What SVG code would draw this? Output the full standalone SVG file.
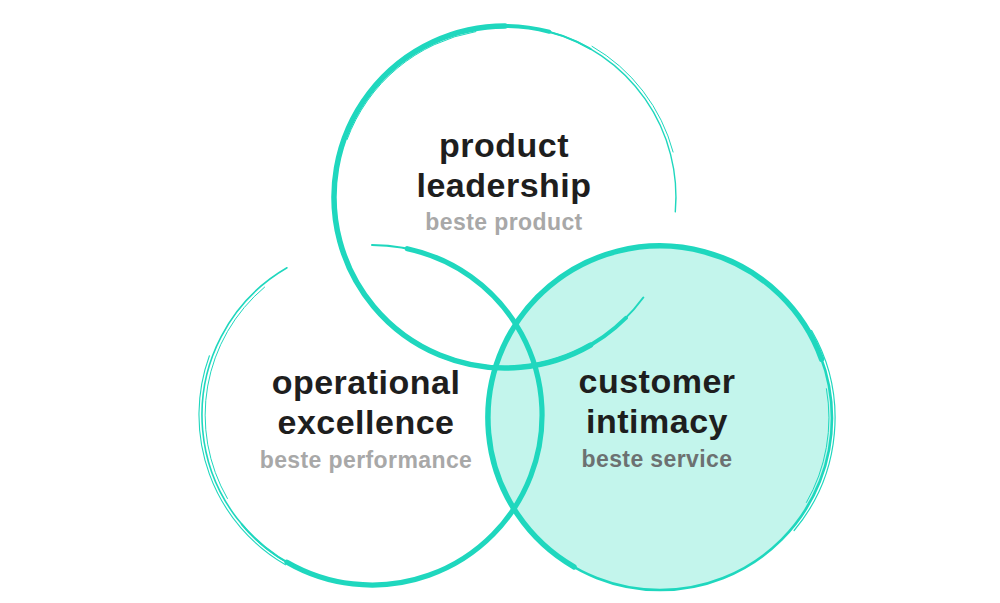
<svg xmlns="http://www.w3.org/2000/svg" width="1000" height="603" viewBox="0 0 1000 603">
<style>
.br{fill:none;stroke:#1FD7BE;stroke-linecap:round}
.t{font-family:"Liberation Sans",Arial,Helvetica,sans-serif;font-weight:bold;text-anchor:middle}
.h{font-size:34px;fill:#1E1E1E;letter-spacing:0.5px}
.s{font-size:23px;fill:#A8A8A8;letter-spacing:0.4px}
.s2{fill:#6C7171}
</style>
<rect width="1000" height="603" fill="#FFFFFF"/>
<g id="customer-intimacy">
  <circle cx="660" cy="418" r="172" fill="#C3F5EC"/>
  <circle class="br" cx="660" cy="418" r="172" stroke-width="2.6"/>
  <path class="br" stroke-width="5.5" d="M574,566.9 A172,172 0 1 1 821.6,359.2"/>
  <path class="br" stroke-width="1.2" d="M811.6,330.5 A175,175 0 0 1 794.1,530.5"/>
  <path class="br" stroke-width="1" d="M826.4,388.7 A169,169 0 0 1 806.4,502.5"/>
  <text class="t h" x="657" y="393">customer</text>
  <text class="t h" x="657" y="433">intimacy</text>
  <text class="t s s2" x="657" y="467">beste service</text>
</g>
<g id="operational-excellence">
  <path class="br" stroke-width="2" d="M372,245 A170,170 0 1 1 241.8,524.3"/>
  <path class="br" stroke-width="5.2" d="M407.3,248.7 A170,170 0 1 1 287,562.2"/>
  <path class="br" stroke-width="1.6" d="M313.9,574.8 A170,170 0 0 1 287,267.8"/>
  <path class="br" stroke-width="1.1" d="M285.5,564.8 A173,173 0 0 1 209.4,355.8"/>
  <path class="br" stroke-width="1" d="M227.4,498.5 A167,167 0 0 1 264.6,287.1"/>
  <text class="t h" x="366" y="394">operational</text>
  <text class="t h" x="366" y="434">excellence</text>
  <text class="t s" x="366" y="468">beste performance</text>
</g>
<g id="product-leadership">
  <path class="br" stroke-width="2" d="M643.3,297.5 A171,171 0 1 1 590.5,48.9"/>
  <path class="br" stroke-width="4" d="M625.9,317.9 A171,171 0 1 1 549.3,31.8"/>
  <path class="br" stroke-width="5.5" d="M590.5,345.1 A171,171 0 1 1 505,26"/>
  <path class="br" stroke-width="1.4" d="M549.3,31.8 A171,171 0 0 1 675.3,211.9"/>
  <path class="br" stroke-width="1" d="M592,46.3 A174,174 0 0 1 673.1,152"/>
  <path class="br" stroke-width="1" d="M347.1,139.5 A168,168 0 0 1 475.8,31.6"/>
  <text class="t h" x="504" y="157">product</text>
  <text class="t h" x="504" y="197">leadership</text>
  <text class="t s" x="504" y="230">beste product</text>
</g>
</svg>
